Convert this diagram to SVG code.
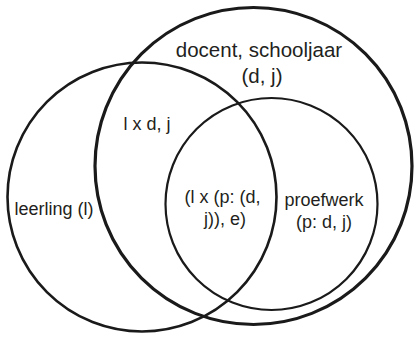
<svg xmlns="http://www.w3.org/2000/svg" width="414" height="337" viewBox="0 0 414 337">
<style>
.c{fill:none;stroke:#1a1a1a}
text{font-family:"Liberation Sans",Arial,sans-serif;fill:#231f20;text-anchor:middle}
.s{font-size:18px}
.b{font-size:20.5px}
</style>
<rect width="414" height="337" fill="#fff"/>
<g id="docent">
<circle class="c" cx="253.5" cy="166" r="158.5" stroke-width="3.2"/>
<text class="b" x="259" y="57">docent, schooljaar</text>
<text class="b" x="262" y="83">(d, j)</text>
</g>
<g id="leerling">
<circle class="c" cx="142" cy="197" r="134.5" stroke-width="2.6"/>
<text class="s" x="54" y="215">leerling (l)</text>
</g>
<g id="proefwerk">
<circle class="c" cx="271.5" cy="204" r="106" stroke-width="2.2"/>
<text class="s" x="324" y="206">proefwerk</text>
<text class="s" x="324" y="228">(p: d, j)</text>
</g>
<g id="labels">
<text class="s" x="147" y="130">l x d, j</text>
<text class="s" x="222.5" y="203">(l x (p: (d,</text>
<text class="s" x="225" y="225">j)), e)</text>
</g>
<g id="connectors"></g>
</svg>
